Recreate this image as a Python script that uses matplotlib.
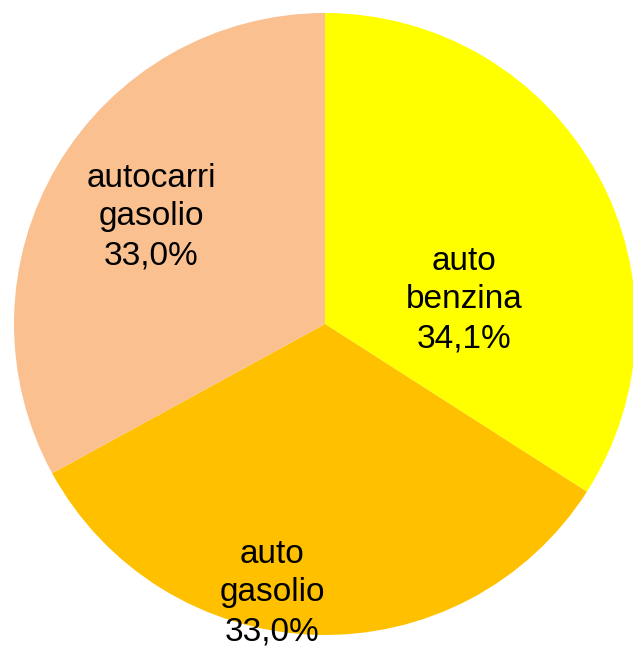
import matplotlib.pyplot as plt

# Data
labels = ['auto\nbenzina', 'auto\ngasolio', 'autocarri\ngasolio']
shares = [34.1, 33.0, 33.0]
colors = ['#FFFF00', '#FFC000', '#FAC090']
# label positions (pixel-like coords, y from top)
label_pos = [(464, 300), (272, 593), (151, 217)]

plt.rcParams['font.family'] = ['Liberation Sans', 'DejaVu Sans']

fig = plt.figure(figsize=(6.33, 6.5), dpi=100)
ax = fig.add_axes([0, 0, 1, 1])

ax.pie(shares, colors=colors, startangle=90, counterclock=False,
       center=(325, 650 - 324), radius=311, frame=True,
       wedgeprops={'linewidth': 0})

for lab, val, (x, y) in zip(labels, shares, label_pos):
    txt = lab + '\n' + f'{val:.1f}%'.replace('.', ',')
    ax.text(x, 650 - y, txt, ha='center', va='center', fontsize=24,
            linespacing=1.33, color='black')

ax.set_xlim(0, 633)
ax.set_ylim(0, 650)
ax.set_aspect('equal')
ax.axis('off')

fig.savefig('out.png', dpi=100)
